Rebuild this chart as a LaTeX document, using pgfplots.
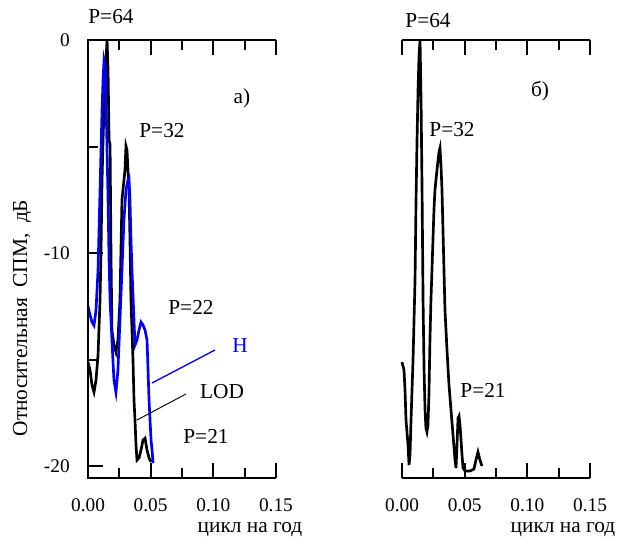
\documentclass[border=0pt]{standalone}
\usepackage{pgfplots}
\pgfplotsset{compat=1.18}
\usepackage{fontspec}
\setmainfont{Liberation Serif}

\begin{document}
\begin{tikzpicture}
\useasboundingbox (0,0) rectangle (463.5pt,-405.75pt);

% panel a)  (1 px of the reference = 0.75pt)
\begin{axis}[scale only axis, width=141pt, height=328.5pt,
    anchor=south west, at={(66pt,-358.5pt)},
    xmin=0, xmax=0.15, ymin=-20.56, ymax=0,
    clip=false,
    axis line style={draw=none},
    every tick/.style={draw=black, line width=1.5pt},
    tick align=inside,
    major tick length=11.25pt, minor tick length=7.5pt,
    xtick={0,0.05,0.1,0.15}, minor xtick={0.025,0.075,0.125},
    xticklabels={0.00,0.05,0.10,0.15},
    ytick={0,-10,-20}, minor ytick={-5,-15},
    yticklabels={0,-10,-20}, ytick pos=left,
    xticklabel style={anchor=north, inner sep=0pt, yshift=-15pt, font=\fontsize{14.5}{16}\selectfont},
    yticklabel style={anchor=east, inner sep=0pt, xshift=-13.5pt, font=\fontsize{14.5}{16}\selectfont}]
\addplot[black, line width=2pt] coordinates {
(0,-15.12) (0.0016,-15.49) (0.0032,-16.2) (0.0048,-16.53) (0.0064,-15.96)
(0.0080,-14.79) (0.0096,-12.21) (0.0104,-9.86) (0.0112,-6.57) (0.0120,-4.69)
(0.0128,-3.29) (0.0136,-1.88) (0.0144,-0.94) (0.0152,0) (0.0160,-1.41)
(0.0168,-4.69) (0.0176,-4.9) (0.0184,-10.33) (0.0191,-13.62) (0.0207,-14.32)
(0.0223,-14.65) (0.0239,-14.08) (0.0255,-12.21) (0.0263,-9.86) (0.0271,-7.51)
(0.0287,-6.57) (0.0295,-6.10) (0.0303,-4.98) (0.0311,-5.16) (0.0319,-6.1)
(0.0327,-7.04) (0.0335,-9.39) (0.0343,-12.21) (0.0359,-15.02) (0.0367,-16.9)
(0.0375,-17.84) (0.0383,-19.01) (0.0391,-19.72) (0.0407,-19.62) (0.0423,-19.25)
(0.0439,-18.78) (0.0455,-18.69) (0.0471,-19.25) (0.0487,-19.62) (0.0503,-19.81)
};
\addplot[blue, line width=2pt] coordinates {
(0,-12.5) (0.0016,-12.9) (0.0032,-13.24) (0.0048,-13.4) (0.0064,-12.68)
(0.0080,-10.8) (0.0088,-8.92) (0.0096,-7.04) (0.0104,-5.16) (0.0112,-3.29)
(0.0120,-1.88) (0.0128,-0.94) (0.0136,-1.17) (0.0144,-2.82) (0.0152,-5.16)
(0.0160,-7.51) (0.0168,-10.33) (0.0176,-12.21) (0.0191,-14.08) (0.0207,-15.96)
(0.0223,-16.53) (0.0239,-15.49) (0.0255,-13.15) (0.0271,-10.8) (0.0287,-8.45)
(0.0303,-7.04) (0.0319,-6.57) (0.0327,-6.48) (0.0335,-7.51) (0.0343,-9.39)
(0.0351,-10.8) (0.0367,-13.15) (0.0375,-14.32) (0.0391,-14.08) (0.0407,-13.62)
(0.0423,-13.24) (0.0439,-13.38) (0.0455,-13.62) (0.0471,-14.08) (0.0479,-15.49)
(0.0487,-16.9) (0.0495,-17.84) (0.0503,-18.78) (0.0511,-19.25) (0.0519,-19.86)
};
\end{axis}

% panel b)
\begin{axis}[scale only axis, width=141pt, height=328.5pt,
    anchor=south west, at={(301.5pt,-358.5pt)},
    xmin=0, xmax=0.15, ymin=-20.56, ymax=0,
    clip=false,
    axis line style={draw=none},
    every tick/.style={draw=black, line width=1.5pt},
    tick align=inside,
    major tick length=11.25pt, minor tick length=7.5pt,
    xtick={0,0.05,0.1,0.15}, minor xtick={0.025,0.075,0.125},
    xticklabels={0.00,0.05,0.10,0.15},
    ytick=\empty,
    xticklabel style={anchor=north, inner sep=0pt, yshift=-15pt, font=\fontsize{14.5}{16}\selectfont}]
\addplot[black, line width=2pt] coordinates {
(0,-15.12) (0.0016,-15.49) (0.0024,-16.43) (0.0032,-17.84) (0.0048,-19.01)
(0.0056,-19.95) (0.0064,-19.48) (0.0072,-17.84) (0.0080,-16.43) (0.0088,-15.02)
(0.0096,-13.15) (0.0104,-11.27) (0.0112,-7.51) (0.0120,-4.69) (0.0128,-2.35)
(0.0136,-0.70) (0.0144,0) (0.0152,-2.82) (0.0160,-7.04) (0.0168,-12.21)
(0.0176,-15.49) (0.0184,-17.37) (0.0191,-18.22) (0.0199,-18.4) (0.0207,-18.08)
(0.0215,-16.67) (0.0223,-14.08) (0.0231,-12.21) (0.0239,-10.8) (0.0247,-9.39)
(0.0255,-7.98) (0.0263,-7.04) (0.0279,-6.10) (0.0295,-5.26) (0.0303,-5.07)
(0.0311,-5.87) (0.0319,-7.04) (0.0327,-8.92) (0.0335,-10.8) (0.0343,-12.68)
(0.0359,-14.55) (0.0375,-16.2) (0.0391,-17.37) (0.0407,-18.54) (0.0423,-19.72)
(0.0431,-20.09) (0.0439,-19.01) (0.0447,-17.75) (0.0455,-17.65) (0.0463,-18.08)
(0.0471,-18.78) (0.0479,-19.48) (0.0487,-20.09) (0.0503,-20.23) (0.0543,-20.23)
(0.0574,-20.14) (0.0590,-19.72) (0.0606,-19.34) (0.0622,-19.72) (0.0638,-20.0)
};
\end{axis}

% frames, x ticks and annotations, placed in reference pixels
\begin{scope}[x=0.75pt, y=-0.75pt, every node/.style={inner sep=0pt, font=\fontsize{16}{18}\selectfont}]
\draw[line width=1.6pt] (276,40) -- (88,40) -- (88,478) -- (276,478);
\draw[line width=1.6pt] (402,40) -- (590,40);
\draw[line width=1.6pt] (402,478) -- (590,478);
\foreach \o in {0,314} {
  \foreach \t in {88,150.67,213.33,276}
    \draw[line width=1.6pt] (\t+\o,40) -- (\t+\o,55) (\t+\o,478) -- (\t+\o,463);
  \foreach \t in {119.33,182,244.67}
    \draw[line width=1.6pt] (\t+\o,40) -- (\t+\o,50) (\t+\o,478) -- (\t+\o,468);
}
\node at (111,17) {P=64};
\node at (162,131) {P=32};
\node at (242,98) {а)};
\node at (191,307) {P=22};
\node[text=blue] at (240,346) {H};
\node at (222,392) {LOD};
\node at (206,436) {P=21};
\draw[blue, line width=1pt] (152,383) -- (215,350);
\draw[black, line width=0.7pt] (137,420) -- (186,394);
\node[rotate=90] at (22,318) {Относительная\ \ СПМ,\ \ дБ};
\node at (250,530) {цикл на год};
\node at (428,21) {P=64};
\node at (452,130) {P=32};
\node at (540,91) {б)};
\node at (483,390) {P=21};
\node at (563,530) {цикл на год};
\end{scope}
\end{tikzpicture}
\end{document}
